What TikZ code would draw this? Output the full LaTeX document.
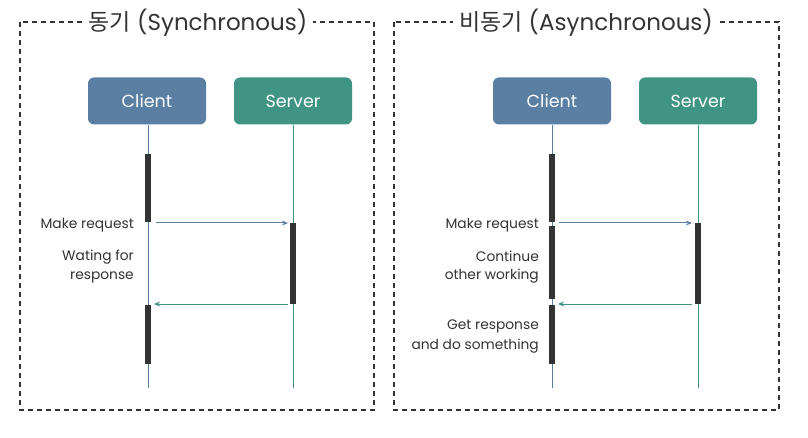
\documentclass[tikz,border=0pt]{standalone}
\usepackage{fontspec}
\setmainfont{Poppins}
\newfontfamily\kr{Noto Sans CJK KR}
\usetikzlibrary{arrows.meta}
\definecolor{cblue}{HTML}{5A7FA3}
\definecolor{steal}{HTML}{3F9484}
\definecolor{bar}{HTML}{333333}
\definecolor{txt}{HTML}{333333}
\tikzset{
  frame/.style={draw=txt, line width=1.2pt, dash pattern=on 5pt off 4pt},
  ttl/.style={fill=white, inner xsep=6pt, text=txt, font=\fontsize{23}{26}\selectfont},
  actor/.style={rounded corners=6pt, minimum width=118pt, minimum height=47pt, text=white, font=\fontsize{17.5}{20}\selectfont},
  life/.style={line width=1pt},
  actbar/.style={fill=bar, draw=none, minimum width=6pt, inner sep=0pt},
  lbl/.style={anchor=east, text=txt, font=\fontsize{13.8}{16}\selectfont, inner sep=0pt},
  msg/.style={line width=1pt, -{Stealth[length=6pt,width=5pt]}}
}
\begin{document}
\begin{tikzpicture}[x=1pt,y=-1pt]
\useasboundingbox (0,0) rectangle (808,438);
\fill[white] (0,0) rectangle (808,438);
% frames
\draw[frame] (20,22) rectangle (374,410);
\draw[frame] (394,22) rectangle (779,410);
\node[ttl] (t1) at (198,23) {{\kr 동기} (Synchronous)};
\node[ttl] (t2) at (586,23) {{\kr 비동기} (Asynchronous)};
% left actors
\node[actor, fill=cblue] (c1) at (147,101) {Client};
\node[actor, fill=steal] (s1) at (293,101) {Server};
\coordinate (c1e) at (148,388);
\coordinate (s1e) at (293,388);
\draw[life, cblue] (c1.south -| c1e) -- (c1e);
\draw[life, steal] (s1.south -| s1e) -- (s1e);
\node[actbar, minimum height=68pt, anchor=north] (b1) at (148,154) {};
\node[actbar, minimum height=81pt, anchor=north] (b2) at (293,223) {};
\node[actbar, minimum height=59pt, anchor=north] (b3) at (148,305) {};
\coordinate (r1s) at (156,223);
\coordinate (r1e) at (288,223);
\coordinate (p1s) at (288,304);
\coordinate (p1e) at (154,304);
\draw[msg, cblue] (r1s) -- (r1e);
\draw[msg, steal] (p1s) -- (p1e);
\node[lbl] (l1) at (134,225) {Make request};
\node[lbl] (l2) at (134,257) {Wating for};
\node[lbl] (l3) at (134,277) {response};
% right actors
\node[actor, fill=cblue] (c2) at (552,101) {Client};
\node[actor, fill=steal] (s2) at (698,101) {Server};
\coordinate (c2e) at (552,388);
\coordinate (s2e) at (698,388);
\draw[life, cblue] (c2.south -| c2e) -- (c2e);
\draw[life, steal] (s2.south -| s2e) -- (s2e);
\node[actbar, minimum height=68pt, anchor=north] (b4) at (552,154) {};
\node[actbar, minimum height=73pt, anchor=north] (b5) at (552,226) {};
\node[actbar, minimum height=81pt, anchor=north] (b6) at (698,223) {};
\node[actbar, minimum height=59pt, anchor=north] (b7) at (552,305) {};
\coordinate (r2s) at (559,223);
\coordinate (r2e) at (692,223);
\coordinate (p2s) at (692,304);
\coordinate (p2e) at (558,304);
\draw[msg, cblue] (r2s) -- (r2e);
\draw[msg, steal] (p2s) -- (p2e);
\node[lbl] (l4) at (539,225) {Make request};
\node[lbl] (l5) at (539,256) {Continue};
\node[lbl] (l6) at (539,276) {other working};
\node[lbl] (l7) at (539,326) {Get response};
\node[lbl] (l8) at (539,346) {and do something};
\end{tikzpicture}
\end{document}
